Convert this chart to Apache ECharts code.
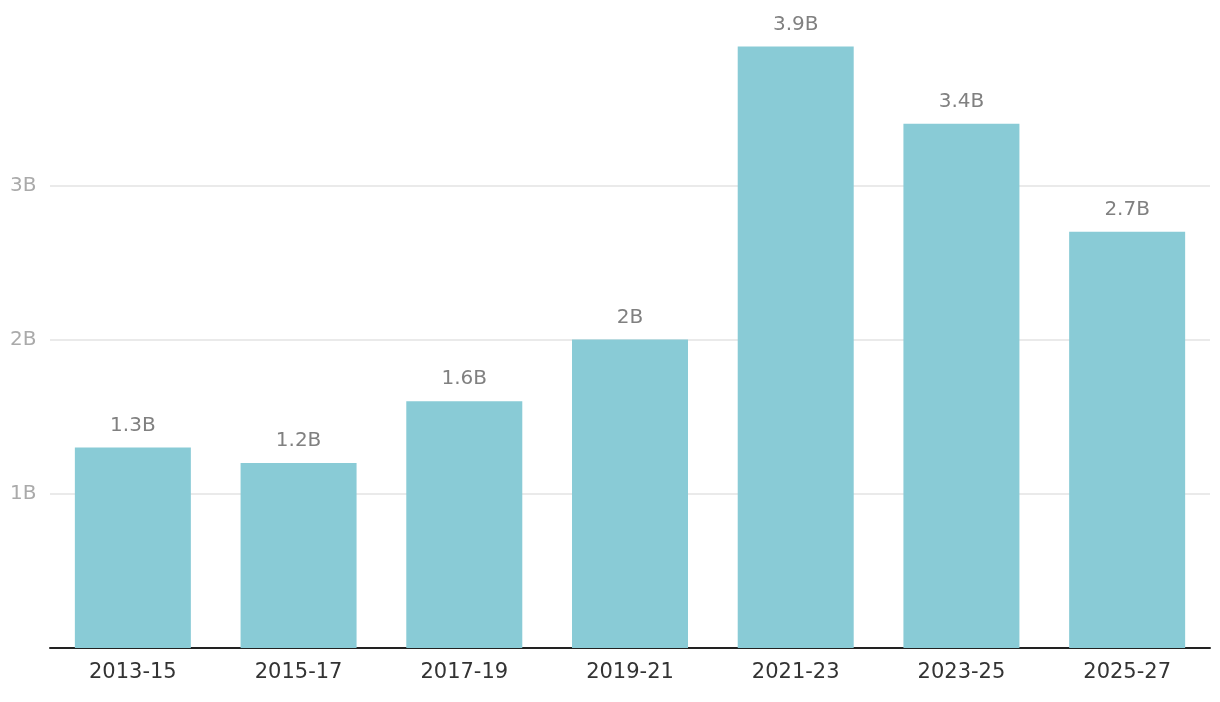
<!DOCTYPE html>
<html>
<head>
<meta charset="utf-8">
<script src="https://cdn.jsdelivr.net/npm/echarts@6/dist/echarts.min.js"></script>
<style>
html,body{margin:0;padding:0;background:#fff;}
#chart{width:1220px;height:702px;}
</style>
</head>
<body>
<div id="chart"></div>
<script>
const categories = ['2013-15','2015-17','2017-19','2019-21','2021-23','2023-25','2025-27'];
const values = [1.3, 1.2, 1.6, 2.0, 3.9, 3.4, 2.7];
const valueLabels = ['1.3B','1.2B','1.6B','2B','3.9B','3.4B','2.7B'];
const yTicks = [1, 2, 3];

const FONT = '"DejaVu Sans", "Liberation Sans", sans-serif';
const chart = echarts.init(document.getElementById('chart'));
chart.setOption({
  animation: false,
  grid: {left: 50, right: 10, top: 31.2, bottom: 54, containLabel: false},
  xAxis: {
    type: 'category',
    data: categories,
    axisLine: {lineStyle: {color: '#222', width: 2}},
    axisTick: {show: false},
    axisLabel: {color: '#333', fontSize: 21, fontFamily: FONT, margin: 14}
  },
  yAxis: {
    type: 'value',
    min: 0, max: 4, interval: 1,
    axisLine: {show: false},
    axisTick: {show: false},
    axisLabel: {
      color: '#aaa', fontSize: 20, fontFamily: FONT,
      align: 'left', margin: 40,
      formatter: v => yTicks.includes(v) ? v + 'B' : ''
    },
    splitLine: {lineStyle: {color: '#e3e3e3', width: 1.5}, showMinLine: false, showMaxLine: false}
  },
  series: [{
    type: 'bar',
    data: values,
    barCategoryGap: '30%',
    itemStyle: {color: '#89cbd6'},
    label: {
      show: true, position: 'top', distance: 12,
      color: '#808080', fontSize: 20, fontFamily: FONT,
      formatter: p => valueLabels[p.dataIndex]
    }
  }]
});
</script>
</body>
</html>
